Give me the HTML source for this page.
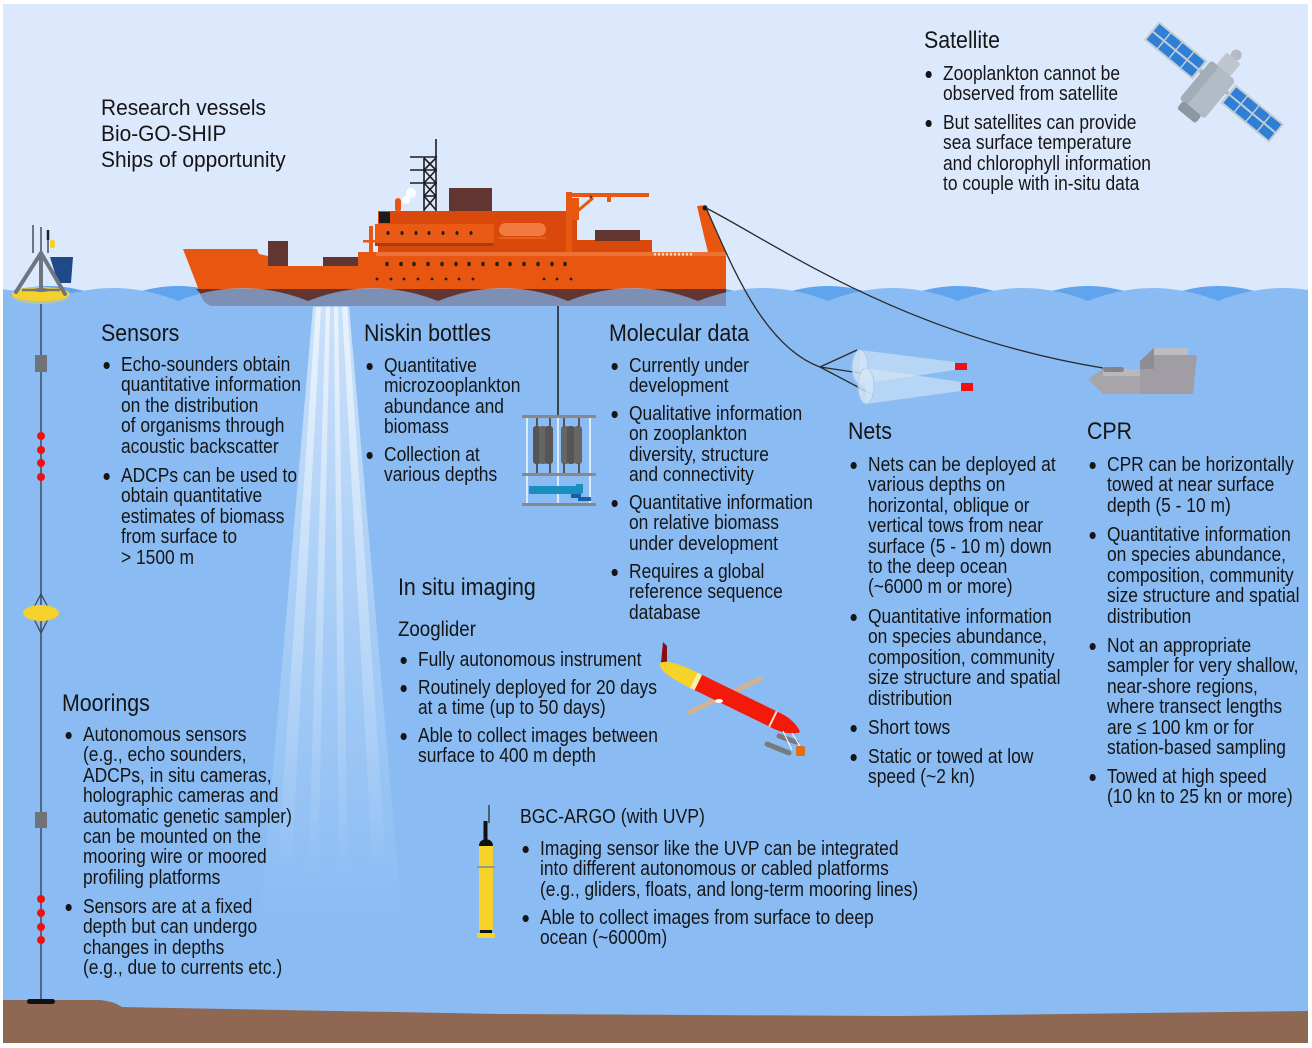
<!DOCTYPE html>
<html><head><meta charset="utf-8">
<style>
html,body{margin:0;padding:0;}
body{width:1312px;height:1048px;position:relative;overflow:hidden;background:#fff;font-family:"Liberation Sans",sans-serif;}
svg{position:absolute;left:0;top:0;}
.t{position:absolute;white-space:nowrap;transform-origin:0 0;color:#151515;}
.b{font-size:20px;line-height:20.4px;transform:scaleX(.87);}
.h{font-size:24px;line-height:24px;transform:scaleX(.89);}
.li::before{content:"";position:absolute;left:-20px;top:7.3px;width:6.5px;height:6.5px;border-radius:50%;background:#151515;}
</style></head><body>
<svg width="1312" height="1048" viewBox="0 0 1312 1048">
<defs>
<clipPath id="frame"><rect x="3" y="4" width="1305" height="1039"/></clipPath>
<clipPath id="shipclip"><rect x="180" y="240" width="547" height="67"/></clipPath>
<linearGradient id="beam" x1="0" y1="306" x2="0" y2="920" gradientUnits="userSpaceOnUse">
<stop offset="0" stop-color="#ffffff" stop-opacity="0.55"/>
<stop offset="0.6" stop-color="#ffffff" stop-opacity="0.2"/>
<stop offset="1" stop-color="#ffffff" stop-opacity="0"/>
</linearGradient>
<linearGradient id="beam2" x1="0" y1="306" x2="0" y2="880" gradientUnits="userSpaceOnUse">
<stop offset="0" stop-color="#ffffff" stop-opacity="0.6"/>
<stop offset="1" stop-color="#ffffff" stop-opacity="0"/>
</linearGradient>
</defs>
<g clip-path="url(#frame)">
<rect x="0" y="0" width="1312" height="1048" fill="#dce9fd"/>
<!-- dark back wave -->
<path fill="#60a4ee" d="M-17,301 C-7,297 18,286 48,286 C78,286 103,297 113,301 C123,297 148,286 178,286 C208,286 233,297 243,301 C253,297 278,286 308,286 C338,286 363,297 373,301 C383,297 408,286 438,286 C468,286 493,297 503,301 C513,297 538,286 568,286 C598,286 623,297 633,301 C643,297 668,286 698,286 C728,286 753,297 763,301 C773,297 798,286 828,286 C858,286 883,297 893,301 C903,297 928,286 958,286 C988,286 1013,297 1023,301 C1033,297 1058,286 1088,286 C1118,286 1143,297 1153,301 C1163,297 1188,286 1218,286 C1248,286 1273,297 1283,301 C1293,297 1318,286 1348,286 L1348,400 L-17,400 Z"/>
<!-- light water -->
<path id="water" fill="#8abcf3" d="M-82,301 C-72,297 -47,288 -17,288 C13,288 38,297 48,301 C58,297 83,288 113,288 C143,288 168,297 178,301 C188,297 213,288 243,288 C273,288 298,297 308,301 C318,297 343,288 373,288 C403,288 428,297 438,301 C448,297 473,288 503,288 C533,288 558,297 568,301 C578,297 603,288 633,288 C663,288 688,297 698,301 C708,297 733,288 763,288 C793,288 818,297 828,301 C838,297 863,288 893,288 C923,288 948,297 958,301 C968,297 993,288 1023,288 C1053,288 1078,297 1088,301 C1098,297 1123,288 1153,288 C1183,288 1208,297 1218,301 C1228,297 1253,288 1283,288 C1313,288 1338,297 1348,301 L1348,1048 L-82,1048 Z"/>

<!-- light beam -->
<polygon points="313,306 349,306 402,920 260,920" fill="url(#beam)"/>
<polygon points="316,306 321,306 292,860 278,860" fill="url(#beam2)"/>
<polygon points="326,306 330,306 318,880 308,880" fill="url(#beam2)"/>
<polygon points="334,306 338,306 348,880 339,880" fill="url(#beam2)"/>
<polygon points="342,306 347,306 386,860 372,860" fill="url(#beam2)"/>

<!-- seabed -->
<path fill="#8e6853" d="M3,1000 L100,1000 Q113,1001 122,1007 L500,1014 L900,1016 L1308,1011 L1308,1048 L3,1048 Z"/>

<!-- SHIP -->
<g>
<rect x="369" y="226" width="4" height="28" fill="#e8560f"/>
<rect x="363" y="240" width="14" height="2.5" fill="#e8560f"/>
<rect x="378" y="211" width="199" height="42" fill="#d8490b"/>
<rect x="379" y="212" width="11" height="11" fill="#1c1c1c"/>
<rect x="375" y="224" width="119" height="20" fill="#e95a15"/>
<rect x="375" y="243" width="119" height="3" fill="#a93d10"/>
<rect x="499" y="223" width="47" height="13" rx="6.5" fill="#f07a40"/>
<rect x="499" y="237" width="47" height="2" fill="#e8601f"/>
<rect x="395" y="198" width="6" height="14" rx="3" fill="#e8560f"/>
<circle cx="411" cy="193" r="5" fill="#fff" opacity=".9"/>
<circle cx="406" cy="200" r="4" fill="#fff" opacity=".9"/>
<!-- mast -->
<g stroke="#1c1c1c" stroke-width="1.6" fill="none">
<line x1="436" y1="139" x2="436" y2="211"/>
<line x1="424" y1="158" x2="424" y2="211"/>
<line x1="410" y1="157" x2="437" y2="157"/>
<line x1="410" y1="170" x2="437" y2="170"/>
<line x1="410" y1="183" x2="437" y2="183"/>
<line x1="424" y1="158" x2="436" y2="170"/><line x1="436" y1="158" x2="424" y2="170"/>
<line x1="424" y1="170" x2="436" y2="183"/><line x1="436" y1="170" x2="424" y2="183"/>
<line x1="424" y1="183" x2="436" y2="196"/><line x1="436" y1="183" x2="424" y2="196"/>
<line x1="424" y1="196" x2="436" y2="210"/><line x1="436" y1="196" x2="424" y2="210"/>
<line x1="424" y1="196" x2="436" y2="196"/>
</g>
<rect x="449" y="188" width="43" height="23" fill="#623530"/>
<!-- crane -->
<rect x="566" y="192" width="6" height="60" fill="#e8560f"/>
<rect x="566" y="198" width="13" height="22" fill="#e8560f"/>
<rect x="572" y="193" width="77" height="4" fill="#e8560f"/>
<rect x="607" y="196" width="4" height="6" fill="#e8560f"/>
<line x1="574" y1="214" x2="593" y2="198" stroke="#e8560f" stroke-width="3"/>
<circle cx="591" cy="197" r="1.5" fill="#8a3010"/>
<rect x="577" y="240" width="75" height="13" fill="#d8490b"/>
<rect x="595" y="230" width="45" height="11" fill="#623530"/>
<!-- stern A-frame -->
<polygon points="697,206 706,205 716,232 726,252 708,252 704,236" fill="#e8560f"/>
<circle cx="705" cy="208" r="2.5" fill="#1c1c1c"/>
<!-- hull -->
<path id="hull" d="M183,249 L257,249 L259,254 L268,256 L272,262 L288,266 L358,266 L358,252 L726,252 L726,306 L211,306 Q203,303 200,293 Z" fill="#e8560f"/>
<rect x="268" y="241" width="20" height="25" fill="#623530"/>
<rect x="323" y="257" width="35" height="9" fill="#623530"/>
<rect x="376" y="252" width="350" height="4" fill="#f08a55" opacity=".55"/>
<path d="M196,289 L726,289 L726,306 L211,306 Q203,303 200,293 Z" fill="#623530"/>
<g fill="#1e1e1e">
<ellipse cx="388" cy="233" rx="1.5" ry="2"/><ellipse cx="402" cy="233" rx="1.5" ry="2"/><ellipse cx="416" cy="233" rx="1.5" ry="2"/><ellipse cx="429" cy="233" rx="1.5" ry="2"/><ellipse cx="443" cy="233" rx="1.5" ry="2"/><ellipse cx="457" cy="233" rx="1.5" ry="2"/><ellipse cx="471" cy="233" rx="1.5" ry="2"/>
<ellipse cx="387" cy="264" rx="1.7" ry="2.3"/><ellipse cx="401" cy="264" rx="1.7" ry="2.3"/><ellipse cx="414" cy="264" rx="1.7" ry="2.3"/><ellipse cx="428" cy="264" rx="1.7" ry="2.3"/><ellipse cx="442" cy="264" rx="1.7" ry="2.3"/><ellipse cx="456" cy="264" rx="1.7" ry="2.3"/><ellipse cx="469" cy="264" rx="1.7" ry="2.3"/><ellipse cx="483" cy="264" rx="1.7" ry="2.3"/><ellipse cx="497" cy="264" rx="1.7" ry="2.3"/><ellipse cx="510" cy="264" rx="1.7" ry="2.3"/><ellipse cx="524" cy="264" rx="1.7" ry="2.3"/><ellipse cx="538" cy="264" rx="1.7" ry="2.3"/><ellipse cx="552" cy="264" rx="1.7" ry="2.3"/><ellipse cx="565" cy="264" rx="1.7" ry="2.3"/>
<circle cx="377" cy="279" r="1.4"/><circle cx="391" cy="279" r="1.4"/><circle cx="404" cy="279" r="1.4"/><circle cx="418" cy="279" r="1.4"/><circle cx="432" cy="279" r="1.4"/><circle cx="446" cy="279" r="1.4"/><circle cx="459" cy="279" r="1.4"/><circle cx="473" cy="279" r="1.4"/><circle cx="544" cy="279" r="1.4"/><circle cx="557" cy="279" r="1.4"/><circle cx="571" cy="279" r="1.4"/>
</g>
<g fill="#fff" opacity=".8">
<rect x="654" y="253" width="2" height="2.5"/><rect x="658" y="253" width="2" height="2.5"/><rect x="662" y="253" width="2" height="2.5"/><rect x="666" y="253" width="2" height="2.5"/><rect x="670" y="253" width="2" height="2.5"/><rect x="674" y="253" width="2" height="2.5"/><rect x="678" y="253" width="2" height="2.5"/><rect x="682" y="253" width="2" height="2.5"/><rect x="686" y="253" width="2" height="2.5"/><rect x="690" y="253" width="2" height="2.5"/>
</g>
</g>
<!-- water overlay on hull -->
<g clip-path="url(#shipclip)">
<use href="#water" opacity=".67"/>
</g>

<!-- cables -->
<g fill="none" stroke="#2a2a2a" stroke-width="1.3">
<path d="M706,208 C770,240 900,335 1103,368"/>
<path d="M706,208 C728,255 760,345 820,367"/>
<path d="M820,367 L857,350"/>
<path d="M820,367 L860,373"/>
<path d="M820,367 L873,395"/>
</g>
<!-- nets -->
<g>
<polygon points="860,350 955,362 955,370 860,384" fill="#d6e6f7" opacity=".6"/>
<ellipse cx="860" cy="367" rx="8" ry="17" fill="#d6e6f7" opacity=".8" stroke="#a9c8ea" stroke-width="1"/>
<polygon points="866,368 961,382 961,391 866,404" fill="#d6e6f7" opacity=".6"/>
<ellipse cx="866" cy="386" rx="8" ry="18" fill="#d6e6f7" opacity=".8" stroke="#a9c8ea" stroke-width="1"/>
<rect x="955" y="363" width="12" height="7" fill="#f01010"/>
<rect x="961" y="383" width="12" height="8" fill="#f01010"/>
</g>
<!-- CPR -->
<g>
<polygon points="1088,379 1103,369 1140,369 1140,394 1103,394" fill="#a7a5aa"/>
<polygon points="1103,369 1140,369 1140,376 1103,376" fill="#b9b8bc"/>
<polygon points="1140,361 1154,348 1188,348 1188,355 1197,355 1193,394 1140,394" fill="#a09ea4"/>
<polygon points="1154,348 1188,348 1188,355 1154,355" fill="#bdbcc0"/>
<polygon points="1140,361 1154,348 1154,369 1140,369" fill="#8f8d93"/>
<rect x="1103" y="367" width="21" height="5" rx="2.5" fill="#858389"/>
</g>

<!-- Niskin rosette -->
<g>
<line x1="558" y1="306" x2="558" y2="416" stroke="#1c1c1c" stroke-width="1.5"/>
<g stroke="#f4f8ff" stroke-width="1.5">
<line x1="527" y1="417" x2="527" y2="504"/><line x1="558" y1="417" x2="558" y2="504"/><line x1="590" y1="417" x2="590" y2="504"/>
</g>
<g fill="#555">
<rect x="533" y="426" width="8" height="38" rx="3"/><rect x="539" y="426" width="8" height="38" rx="3" fill="#666"/><rect x="545" y="426" width="8" height="38" rx="3"/>
<rect x="561" y="426" width="8" height="38" rx="3" fill="#666"/><rect x="567" y="426" width="8" height="38" rx="3"/><rect x="574" y="426" width="8" height="38" rx="3" fill="#666"/>
<rect x="536" y="418" width="2" height="9"/><rect x="549" y="418" width="2" height="9"/><rect x="563" y="418" width="2" height="9"/><rect x="578" y="418" width="2" height="9"/>
<rect x="536" y="463" width="2" height="10"/><rect x="549" y="463" width="2" height="10"/><rect x="563" y="463" width="2" height="10"/><rect x="578" y="463" width="2" height="10"/>
</g>
<rect x="529" y="486" width="53" height="8" fill="#1a8fbf"/>
<rect x="576" y="484" width="7" height="9" fill="#1a8fbf"/>
<rect x="571" y="494" width="10" height="4" fill="#1560a8"/>
<rect x="578" y="497" width="13" height="4" fill="#1560a8"/>
<rect x="522" y="415" width="74" height="3" fill="#888"/>
<rect x="522" y="473" width="74" height="3" fill="#888"/>
<rect x="522" y="503" width="74" height="3" fill="#888"/>
</g>

<!-- Mooring -->
<g>
<line x1="41" y1="300" x2="41" y2="1001" stroke="#3c4a5e" stroke-width="1.5"/>
<polygon points="50,257 73,257 71,283 58,283" fill="#1f4a87"/>
<rect x="50" y="240" width="5" height="8" rx="2" fill="#f5d22b"/>
<g stroke="#6e7580" stroke-width="2">
<line x1="33" y1="225" x2="33" y2="253"/><line x1="41" y1="227" x2="41" y2="253"/><line x1="48" y1="231" x2="48" y2="253"/>
</g>
<line x1="48" y1="230" x2="48" y2="240" stroke="#222" stroke-width="2.5"/>
<ellipse cx="40" cy="297" rx="28" ry="7" fill="#b9c4a9"/>
<ellipse cx="41" cy="294" rx="29" ry="7" fill="#f5d22b"/>
<g stroke="#6e7580" stroke-width="4" stroke-linecap="round">
<line x1="41" y1="253" x2="16" y2="292"/><line x1="41" y1="253" x2="65" y2="294"/><line x1="41" y1="253" x2="41" y2="290"/>
</g>
<line x1="22" y1="290" x2="60" y2="290" stroke="#6e7580" stroke-width="2.5"/>
<ellipse cx="41" cy="290" rx="8" ry="2" fill="#6e7580"/>
<rect x="35" y="355" width="12" height="17" fill="#6f7277"/>
<g fill="#f01010">
<circle cx="41" cy="436" r="4"/><circle cx="41" cy="450" r="4"/><circle cx="41" cy="463" r="4"/><circle cx="41" cy="477" r="4"/>
<circle cx="41" cy="899" r="4"/><circle cx="41" cy="913" r="4"/><circle cx="41" cy="927" r="4"/><circle cx="41" cy="940" r="4"/>
</g>
<polygon points="41,594 51,613 41,633 31,613" fill="none" stroke="#3c4a5e" stroke-width="1.3"/>
<ellipse cx="41" cy="613" rx="18" ry="8" fill="#f5d22b"/>
<rect x="35" y="812" width="12" height="16" fill="#6f7277"/>
<rect x="27" y="999" width="28" height="5" rx="2.5" fill="#111"/>
</g>

<!-- Zooglider -->
<g>
<line x1="688" y1="713" x2="762" y2="678" stroke="#d2b291" stroke-width="5"/>
<polygon points="661,663 663,642 667,646 667,663" fill="#8b0c0c"/>
<g transform="translate(728,697) rotate(26)">
<path d="M-76,0 C-74,-6 -60,-8.5 -38,-8.5 L-38,8.5 C-60,8.5 -74,6 -76,0 Z" fill="#f5d328"/>
<rect x="-38" y="-8.5" width="5" height="17" fill="#fbf0a0"/>
<path d="M-33,-8.5 L55,-8.5 C68,-8.5 78,-3 80,0 C78,3 68,8.5 55,8.5 L-33,8.5 Z" fill="#f41a0a"/>
<rect x="49" y="-8.5" width="2" height="17" fill="#fff" opacity=".85"/>
</g>
<ellipse cx="719" cy="701" rx="4" ry="2" fill="#fff"/>
<line x1="779" y1="736" x2="796" y2="742" stroke="#7a7a7a" stroke-width="5" stroke-linecap="round"/>
<line x1="767" y1="744" x2="789" y2="753" stroke="#7a7a7a" stroke-width="5" stroke-linecap="round"/>
<g stroke="#fff" stroke-width="1" fill="none"><line x1="783" y1="731" x2="792" y2="750"/><line x1="792" y1="733" x2="801" y2="748"/></g>
<rect x="796" y="746" width="9" height="10" rx="2" fill="#e66d0c"/>
</g>

<!-- BGC-Argo -->
<g>
<line x1="489" y1="805" x2="489" y2="823" stroke="#222" stroke-width="1.2"/>
<rect x="483.5" y="821" width="4" height="20" fill="#111"/>
<path d="M479,846 Q479,840 486,839 Q493,840 493,846 Z" fill="#111"/>
<rect x="479" y="846" width="14" height="84" fill="#f5d328"/>
<rect x="477" y="866" width="18" height="2" fill="#9a9a80"/>
<rect x="480" y="930" width="12" height="3" fill="#111"/>
<rect x="477" y="933" width="18" height="5" fill="#f5d328"/>
</g>

<!-- Satellite -->
<g transform="translate(1214,82) rotate(39.5)">
<rect x="-18" y="-2" width="36" height="4" fill="#aab3bd"/>
<rect x="-81" y="-12" width="63" height="24" fill="#c5ccd4"/>
<rect x="18" y="-12" width="63" height="24" fill="#c5ccd4"/>
<g fill="#2f7fd6">
<rect x="-79" y="-10" width="13.5" height="9"/><rect x="-64" y="-10" width="13.5" height="9"/><rect x="-49" y="-10" width="13.5" height="9"/><rect x="-34" y="-10" width="13.5" height="9"/>
<rect x="-79" y="1" width="13.5" height="9"/><rect x="-64" y="1" width="13.5" height="9"/><rect x="-49" y="1" width="13.5" height="9"/><rect x="-34" y="1" width="13.5" height="9"/>
<rect x="20.5" y="-10" width="13.5" height="9"/><rect x="35.5" y="-10" width="13.5" height="9"/><rect x="50.5" y="-10" width="13.5" height="9"/><rect x="65.5" y="-10" width="13.5" height="9"/>
<rect x="20.5" y="1" width="13.5" height="9"/><rect x="35.5" y="1" width="13.5" height="9"/><rect x="50.5" y="1" width="13.5" height="9"/><rect x="65.5" y="1" width="13.5" height="9"/>
</g>
<circle cx="0" cy="-35" r="5.5" fill="#b3bcc6"/>
<rect x="-9" y="-31" width="18" height="17" rx="2" fill="#bfc6ce"/>
<rect x="-16" y="-15" width="32" height="50" rx="4" fill="#b3bcc6"/>
<rect x="-16" y="-15" width="10" height="50" rx="3" fill="#a3adb8"/>
<rect x="-12" y="34" width="24" height="10" rx="3" fill="#8c97a4"/>
</g>
</g>
</svg>

<!-- TEXT -->
<div class="t" style="left:101px;top:95px;font-size:22px;line-height:26px;transform:scaleX(.95);">Research vessels<br>Bio-GO-SHIP<br>Ships of opportunity</div>

<div class="t h" style="left:924px;top:29px;">Satellite</div>
<div class="t b li" style="left:943px;top:64px;">Zooplankton cannot be<br>observed from satellite</div>
<div class="t b li" style="left:943px;top:113px;">But satellites can provide<br>sea surface temperature<br>and chlorophyll information<br>to couple with in-situ data</div>

<div class="t h" style="left:101px;top:322px;">Sensors</div>
<div class="t b li" style="left:121px;top:355px;">Echo-sounders obtain<br>quantitative information<br>on the distribution<br>of organisms through<br>acoustic backscatter</div>
<div class="t b li" style="left:121px;top:466px;">ADCPs can be used to<br>obtain quantitative<br>estimates of biomass<br>from surface to<br>&gt; 1500 m</div>

<div class="t h" style="left:364px;top:322px;">Niskin bottles</div>
<div class="t b li" style="left:384px;top:356px;">Quantitative<br>microzooplankton<br>abundance and<br>biomass</div>
<div class="t b li" style="left:384px;top:445px;">Collection at<br>various depths</div>

<div class="t h" style="left:609px;top:322px;">Molecular data</div>
<div class="t b li" style="left:629px;top:356px;">Currently under<br>development</div>
<div class="t b li" style="left:629px;top:404px;">Qualitative information<br>on zooplankton<br>diversity, structure<br>and connectivity</div>
<div class="t b li" style="left:629px;top:493px;">Quantitative information<br>on relative biomass<br>under development</div>
<div class="t b li" style="left:629px;top:562px;">Requires a global<br>reference sequence<br>database</div>

<div class="t h" style="left:848px;top:420px;">Nets</div>
<div class="t b li" style="left:868px;top:455px;">Nets can be deployed at<br>various depths on<br>horizontal, oblique or<br>vertical tows from near<br>surface (5 - 10 m) down<br>to the deep ocean<br>(~6000 m or more)</div>
<div class="t b li" style="left:868px;top:607px;">Quantitative information<br>on species abundance,<br>composition, community<br>size structure and spatial<br>distribution</div>
<div class="t b li" style="left:868px;top:718px;">Short tows</div>
<div class="t b li" style="left:868px;top:747px;">Static or towed at low<br>speed (~2 kn)</div>

<div class="t h" style="left:1087px;top:420px;">CPR</div>
<div class="t b li" style="left:1107px;top:455px;">CPR can be horizontally<br>towed at near surface<br>depth (5 - 10 m)</div>
<div class="t b li" style="left:1107px;top:525px;">Quantitative information<br>on species abundance,<br>composition, community<br>size structure and spatial<br>distribution</div>
<div class="t b li" style="left:1107px;top:636px;">Not an appropriate<br>sampler for very shallow,<br>near-shore regions,<br>where transect lengths<br>are ≤ 100 km or for<br>station-based sampling</div>
<div class="t b li" style="left:1107px;top:767px;">Towed at high speed<br>(10 kn to 25 kn or more)</div>

<div class="t h" style="left:398px;top:576px;">In situ imaging</div>
<div class="t" style="left:398px;top:619px;font-size:21px;line-height:21px;transform:scaleX(.89);">Zooglider</div>
<div class="t b li" style="left:418px;top:650px;">Fully autonomous instrument</div>
<div class="t b li" style="left:418px;top:678px;">Routinely deployed for 20 days<br>at a time (up to 50 days)</div>
<div class="t b li" style="left:418px;top:726px;">Able to collect images between<br>surface to 400 m depth</div>

<div class="t h" style="left:62px;top:692px;">Moorings</div>
<div class="t b li" style="left:83px;top:725px;">Autonomous sensors<br>(e.g., echo sounders,<br>ADCPs, in situ cameras,<br>holographic cameras and<br>automatic genetic sampler)<br>can be mounted on the<br>mooring wire or moored<br>profiling platforms</div>
<div class="t b li" style="left:83px;top:897px;">Sensors are at a fixed<br>depth but can undergo<br>changes in depths<br>(e.g., due to currents etc.)</div>

<div class="t" style="left:520px;top:807px;font-size:20px;line-height:20px;transform:scaleX(.88);">BGC-ARGO (with UVP)</div>
<div class="t b li" style="left:540px;top:839px;">Imaging sensor like the UVP can be integrated<br>into different autonomous or cabled platforms<br>(e.g., gliders, floats, and long-term mooring lines)</div>
<div class="t b li" style="left:540px;top:908px;">Able to collect images from surface to deep<br>ocean (~6000m)</div>
</body></html>
